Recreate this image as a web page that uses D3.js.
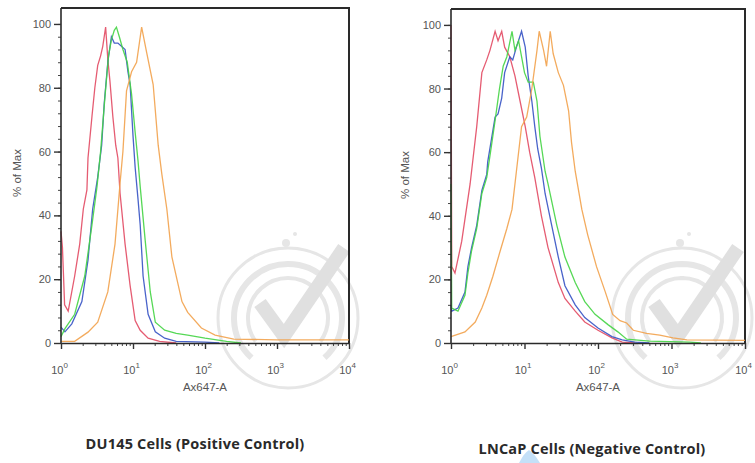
<!DOCTYPE html>
<html>
<head>
<meta charset="utf-8">
<script src="https://cdn.jsdelivr.net/npm/d3@7"></script>
<style>
  body { margin: 0; background: #fff; }
  svg { display: block; }
</style>
</head>
<body>
<svg id="chart" width="755" height="463"></svg>
<script>
// values are [log10 of Ax647-A intensity, % of max]
const yTicks = [0, 20, 40, 60, 80, 100];
const decadeTicks = [1, 10, 100, 1000, 10000];
const seriesColors = ['#e24a63', '#3552c4', '#44d444', '#f2a24c'];
const captions = ['DU145 Cells (Positive Control)', 'LNCaP Cells (Negative Control)'];

const du145Red = [[0,35],[0.02,30],[0.05,12],[0.1,10],[0.19,21],[0.26,31],[0.31,42],[0.36,48],[0.375,58],[0.43,71],[0.47,80],[0.51,87],[0.55,90],[0.58,93],[0.62,99],[0.65,89],[0.68,82],[0.72,71],[0.76,62],[0.79,58],[0.82,47],[0.89,31],[0.96,18],[1.03,7],[1.1,4],[1.21,1.5],[1.37,0.5],[1.6,0]];
const du145Blue = [[0,5],[0.055,3.5],[0.15,6],[0.29,13],[0.375,26],[0.44,42],[0.51,52],[0.565,62],[0.6,75],[0.65,88],[0.7,96],[0.74,94],[0.79,94],[0.84,93],[0.89,92],[0.93,85],[0.96,81],[1.0,65],[1.03,55],[1.07,45],[1.1,37],[1.14,21],[1.21,9],[1.31,3.5],[1.44,1.5],[1.6,0.5],[2.0,0.3],[2.2,0]];
const du145Green = [[0,2],[0.055,4.5],[0.19,9],[0.33,21],[0.43,37],[0.5,49],[0.55,60],[0.61,77],[0.66,90],[0.7,95],[0.74,98],[0.77,99],[0.81,96],[0.86,92],[0.92,88],[0.98,78],[1.03,66],[1.07,57],[1.1,49],[1.17,32],[1.24,16],[1.31,6.5],[1.44,4],[1.6,3],[1.76,2.5],[2.0,1.5],[2.3,0.5],[2.5,0]];
const du145Orange = [[0,0.5],[0.19,0.5],[0.375,3.4],[0.51,6.5],[0.65,16],[0.75,31],[0.82,50],[0.86,60],[0.91,79],[0.98,85],[1.05,88],[1.12,99],[1.19,91],[1.28,81],[1.35,62],[1.4,53],[1.47,42],[1.54,27],[1.68,13],[1.76,9.6],[1.95,4.7],[2.14,2.5],[2.4,1.2],[3.0,1],[4.0,1]];

const lncapRed = [[0,100],[0.01,24],[0.054,22],[0.146,32],[0.26,50],[0.35,68],[0.42,85],[0.486,89],[0.53,92],[0.6,98],[0.64,95],[0.69,98],[0.73,93],[0.8,90],[0.87,84],[0.94,76],[1.01,68],[1.07,60],[1.14,52],[1.23,40],[1.32,30],[1.46,19],[1.55,14],[1.69,10],[1.82,6.6],[2.0,4],[2.19,1.6],[2.33,0.3],[2.5,0]];
const lncapBlue = [[0,12],[0.01,10],[0.095,11],[0.19,16],[0.23,24],[0.28,30],[0.35,37],[0.42,48],[0.486,53],[0.5,57],[0.55,64],[0.6,71],[0.64,72],[0.69,77],[0.73,85],[0.8,90],[0.84,89],[0.89,93],[0.96,98],[1.01,93],[1.05,84],[1.1,76],[1.14,68],[1.18,61],[1.23,55],[1.28,47],[1.37,37],[1.46,27],[1.55,18],[1.69,12],[1.82,8],[2.0,4.7],[2.19,2],[2.33,1],[2.5,0.3],[2.7,0]];
const lncapGreen = [[0,50],[0.01,11],[0.095,10],[0.19,15],[0.23,22],[0.28,29],[0.35,36],[0.42,47],[0.486,52],[0.55,62],[0.6,70],[0.66,80],[0.71,87],[0.76,90],[0.83,98],[0.87,92],[0.92,95],[0.96,90],[1.0,85],[1.05,82],[1.12,82],[1.17,76],[1.21,65],[1.28,54],[1.32,50],[1.44,37],[1.55,27],[1.69,19],[1.82,13],[1.96,9],[2.14,5.7],[2.27,3.5],[2.39,1.2],[2.7,0.6],[3.25,0.3],[3.4,0]];
const lncapOrange = [[0,2],[0.19,3.5],[0.33,6.6],[0.42,11],[0.486,15],[0.57,21],[0.67,29],[0.76,36],[0.83,42],[0.87,50],[0.89,54],[0.96,68],[1.03,71],[1.1,80],[1.17,92],[1.2,98],[1.26,92],[1.3,87],[1.35,98],[1.39,91],[1.46,85],[1.53,81],[1.6,73],[1.64,63],[1.69,54],[1.78,42],[1.86,34],[1.98,24],[2.1,16],[2.2,9],[2.3,7],[2.39,6.3],[2.48,4],[2.66,3],[2.84,2.5],[3.02,1.6],[3.21,1],[4.0,0.8]];

const panels = [
  { caption: captions[0], series: [du145Red, du145Blue, du145Green, du145Orange],
    left: 61, right: 349, top: 8, bottom: 343, yLabelX: 18, yLabelY: 173, captionX: 195, captionY: 449, mark: [288, 318] },
  { caption: captions[1], series: [lncapRed, lncapBlue, lncapGreen, lncapOrange],
    left: 451, right: 745, top: 9, bottom: 343, yLabelX: 406, yLabelY: 175, captionX: 592, captionY: 454, mark: [682, 318] }
];

const svg = d3.select('#chart');
const font = '"Liberation Sans", Arial, sans-serif';

function drawMark(g, cx, cy) {
  const m = g.append('g').attr('transform', `translate(${cx},${cy})`)
    .attr('fill', 'none').attr('stroke', '#e6e6e6');
  m.append('circle').attr('r', 70).attr('stroke-width', 3);
  m.append('path').attr('stroke-width', 6)
    .attr('d', d3.arc()({ innerRadius: 54, outerRadius: 54, startAngle: -2.4, endAngle: 2.4 }));
  m.append('path').attr('stroke-width', 4)
    .attr('d', d3.arc()({ innerRadius: 40, outerRadius: 40, startAngle: -2.2, endAngle: 2.2 }));
  m.append('circle').attr('cx', -2).attr('cy', -75).attr('r', 4).attr('fill', '#e6e6e6').attr('stroke', 'none');
  m.append('circle').attr('cx', 7).attr('cy', -84).attr('r', 2).attr('fill', '#e6e6e6').attr('stroke', 'none');
  m.append('path').attr('stroke', '#e0e0e0').attr('stroke-width', 14)
    .attr('stroke-linejoin', 'miter')
    .attr('d', 'M-28,-15 L-4,18 L56,-70');
}

panels.forEach(p => {
  const g = svg.append('g');
  const x = d3.scaleLog().domain([1, 10000]).range([p.left, p.right]);
  const y = d3.scaleLinear().domain([0, 105]).range([p.bottom, p.top]);

  drawMark(g, p.mark[0], p.mark[1]);

  // frame top and right
  g.append('path')
    .attr('d', `M${x(1)},${y(105)}H${x(10000)}V${y(0)}`)
    .attr('fill', 'none').attr('stroke', '#2a2a2a').attr('stroke-width', 2);

  // curves
  const line = d3.line().x(d => x(Math.pow(10, d[0]))).y(d => y(d[1]));
  p.series.forEach((s, i) => {
    g.append('path').datum(s)
      .attr('d', line)
      .attr('fill', 'none')
      .attr('stroke', seriesColors[i])
      .attr('stroke-width', 1.3)
      .attr('stroke-opacity', 0.9);
  });

  // y axis
  const yMinor = d3.range(0, 101, 4);
  g.append('g').attr('transform', `translate(${p.left},0)`)
    .call(d3.axisLeft(y).tickValues(yMinor).tickSize(3).tickFormat('').tickSizeOuter(0))
    .call(a => a.select('.domain').remove())
    .selectAll('line').attr('stroke', '#444');
  const yAxis = g.append('g').attr('transform', `translate(${p.left},0)`)
    .call(d3.axisLeft(y).tickValues(yTicks).tickSize(7).tickPadding(3).tickSizeOuter(0));
  yAxis.select('.domain').attr('d', `M0,${y(105)}V${y(0)}`).attr('stroke', '#2a2a2a').attr('stroke-width', 1.6);
  yAxis.selectAll('.tick line').attr('stroke', '#333').attr('stroke-width', 1.4);
  yAxis.selectAll('.tick text').attr('font-family', font).attr('font-size', 11).attr('fill', '#555');

  // x axis
  const xMinor = [];
  decadeTicks.slice(0, -1).forEach(t => d3.range(2, 10).forEach(k => xMinor.push(t * k)));
  g.append('g').attr('transform', `translate(0,${p.bottom})`)
    .call(d3.axisBottom(x).tickValues(xMinor).tickSize(3).tickFormat('').tickSizeOuter(0))
    .call(a => a.select('.domain').remove())
    .selectAll('line').attr('stroke', '#444');
  const xAxis = g.append('g').attr('transform', `translate(0,${p.bottom})`)
    .call(d3.axisBottom(x).tickValues(decadeTicks).tickSize(6).tickFormat('').tickSizeOuter(0));
  xAxis.select('.domain').attr('stroke', '#2a2a2a').attr('stroke-width', 1.6);
  xAxis.selectAll('.tick line').attr('stroke', '#333').attr('stroke-width', 1.4);
  xAxis.selectAll('.tick text').remove();
  xAxis.selectAll('.tick').append('text')
    .attr('y', 31).attr('x', -2)
    .attr('text-anchor', 'middle')
    .attr('font-family', font).attr('font-size', 11).attr('fill', '#555')
    .each(function(d) {
      const t = d3.select(this);
      t.append('tspan').text('10');
      t.append('tspan').attr('dy', -6).attr('font-size', 8).text(Math.round(Math.log10(d)));
    });

  // axis titles
  g.append('text')
    .attr('x', (p.left + p.right) / 2).attr('y', p.bottom + 48)
    .attr('text-anchor', 'middle')
    .attr('font-family', font).attr('font-size', 11.5).attr('fill', '#555')
    .text('Ax647-A');
  g.append('text')
    .attr('transform', `translate(${p.yLabelX},${p.yLabelY}) rotate(-90)`)
    .attr('text-anchor', 'middle').attr('dominant-baseline', 'middle')
    .attr('font-family', font).attr('font-size', 11.5).attr('fill', '#555')
    .text('% of Max');

  // caption
  g.append('text')
    .attr('x', p.captionX).attr('y', p.captionY)
    .attr('text-anchor', 'middle')
    .attr('font-family', '"Open Sans", sans-serif').attr('font-weight', 'bold')
    .attr('font-size', 14.5).attr('letter-spacing', 0.2).attr('fill', '#2a2a2a')
    .text(p.caption);
});

// faint blue mark under the second caption
svg.append('path')
  .attr('d', 'M519,463 Q524,453 529,450 Q534,453 540,463 Z')
  .attr('fill', '#c4e0f8');
</script>
</body>
</html>
